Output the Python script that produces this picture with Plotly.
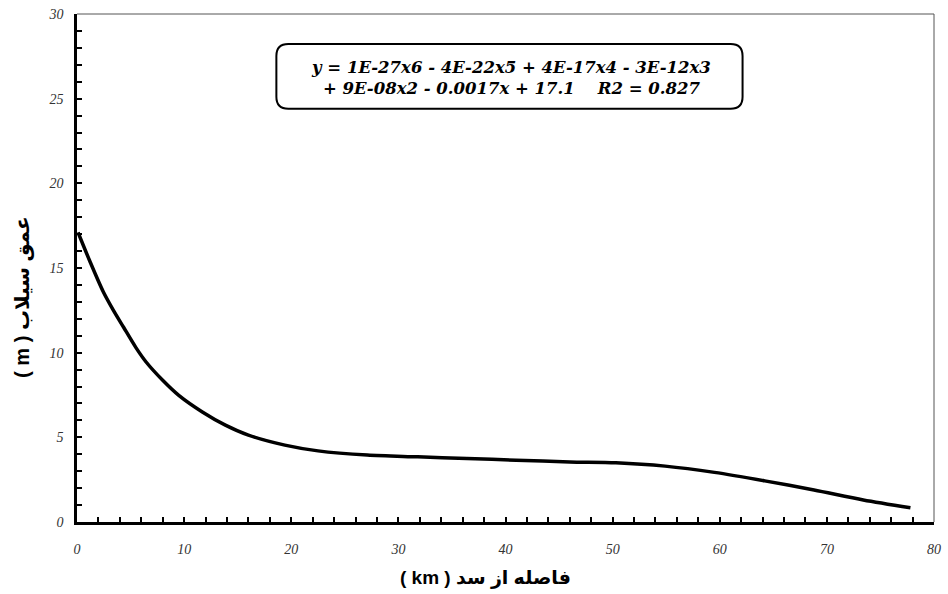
import plotly.graph_objects as go

# distance from dam (km) and flood depth (m)
distance_km = [0.1, 1.2, 2.45, 3.4, 4.35, 5.5, 6.45, 8.0, 9.5, 11.7, 13.85, 16.0,
               19.4, 22.5, 27.1, 31.8, 36.4, 41.0, 46.0, 50.3, 54.9, 59.5, 64.2,
               68.8, 73.4, 77.8]
depth_m = [17.1, 15.4, 13.6, 12.5, 11.5, 10.3, 9.45, 8.37, 7.48, 6.5, 5.72, 5.13,
           4.54, 4.2, 3.95, 3.85, 3.75, 3.65, 3.55, 3.5, 3.3, 2.93, 2.43,
           1.89, 1.3, 0.84]

# tick positions (every tick mark) and which of them carry labels
x_tick_marks = list(range(0, 81, 2))
x_tick_labels = [0, 10, 20, 30, 40, 50, 60, 70, 80]
y_tick_marks = list(range(0, 31, 1))
y_tick_labels = [0, 5, 10, 15, 20, 25, 30]

x_title = "( km ) فاصله از سد"
y_title = "( m ) عمق سیلاب"
equation = ("y = 1E-27x6 - 4E-22x5 + 4E-17x4 - 3E-12x3<br>"
            "+ 9E-08x2 - 0.0017x + 17.1    R2 = 0.827")

W, H = 948, 594
ml, mr, mt, mb = 77, 7, 13, 72
pw, ph = W - ml - mr, H - mt - mb

fig = go.Figure()
fig.add_trace(go.Scatter(x=distance_km, y=depth_m, mode="lines",
                         line=dict(color="black", width=3.5, shape="spline", smoothing=0.8),
                         hoverinfo="skip", showlegend=False))

tickfont = dict(family="Liberation Serif", size=14, color="#333333", style="italic")

fig.update_layout(
    width=W, height=H,
    margin=dict(l=ml, r=mr, t=mt, b=mb),
    paper_bgcolor="white", plot_bgcolor="white",
    showlegend=False,
    xaxis=dict(range=[0, 80], tickvals=x_tick_marks,
               ticktext=[str(v) if v in x_tick_labels else "" for v in x_tick_marks],
               ticks="inside", ticklen=5, tickwidth=2, tickcolor="black",
               showgrid=False, zeroline=False,
               showline=True, linecolor="black", linewidth=2.5,
               tickfont=tickfont, ticklabelstandoff=12),
    yaxis=dict(range=[0, 30], tickvals=y_tick_marks,
               ticktext=[str(v) if v in y_tick_labels else "" for v in y_tick_marks],
               ticks="inside", ticklen=5, tickwidth=2, tickcolor="black",
               showgrid=False, zeroline=False,
               showline=True, linecolor="black", linewidth=2.5,
               tickfont=tickfont, ticklabelstandoff=8),
)

# thin top and right borders
fig.add_shape(type="line", xref="paper", yref="paper", x0=0, x1=1, y0=1, y1=1,
              line=dict(color="#555555", width=1))
fig.add_shape(type="line", xref="paper", yref="paper", x0=1, x1=1, y0=0, y1=1,
              line=dict(color="#555555", width=1))


def px(x):
    return (x - ml) / pw


def py(y):
    return 1 - (y - mt) / ph


# axis titles
titlefont = dict(family="Liberation Sans, DejaVu Sans", size=19, color="black", weight="bold")
fig.add_annotation(xref="paper", yref="paper", x=px(489), y=py(578), text=x_title,
                   showarrow=False, xanchor="center", yanchor="middle", font=titlefont)
fig.add_annotation(xref="paper", yref="paper", x=px(22), y=py(296), text=y_title,
                   showarrow=False, xanchor="center", yanchor="middle", textangle=-90,
                   font=dict(family="Liberation Sans, DejaVu Sans", size=20,
                             color="black", weight="bold"))

# rounded equation box
bx0, bx1, by0, by1, r = 278, 748, 43, 108, 12
path = (f"M {px(bx0 + r)},{py(by0)} L {px(bx1 - r)},{py(by0)} "
        f"Q {px(bx1)},{py(by0)} {px(bx1)},{py(by0 + r)} "
        f"L {px(bx1)},{py(by1 - r)} Q {px(bx1)},{py(by1)} {px(bx1 - r)},{py(by1)} "
        f"L {px(bx0 + r)},{py(by1)} Q {px(bx0)},{py(by1)} {px(bx0)},{py(by1 - r)} "
        f"L {px(bx0)},{py(by0 + r)} Q {px(bx0)},{py(by0)} {px(bx0 + r)},{py(by0)} Z")
fig.add_shape(type="path", xref="paper", yref="paper", path=path,
              line=dict(color="black", width=2), fillcolor="white", layer="below")

fig.add_annotation(xref="paper", yref="paper", x=px(515), y=py(77),
                   xanchor="center", yanchor="middle",
                   text=equation, showarrow=False, align="center",
                   font=dict(family="DejaVu Serif", size=16.5, color="black",
                             weight="bold", style="italic"))

fig.write_html("out.html")
